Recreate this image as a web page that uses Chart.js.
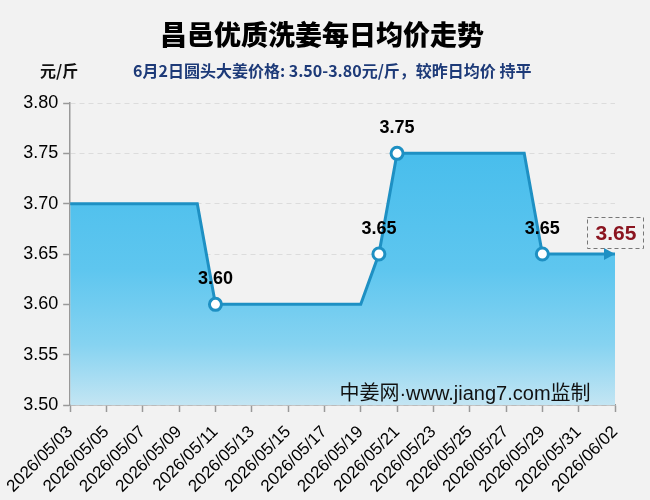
<!DOCTYPE html>
<html><head><meta charset="utf-8">
<script src="https://cdn.jsdelivr.net/npm/chart.js@4"></script>
<style>html,body{margin:0;padding:0;background:#f2f2f2;}#wrap{width:650px;height:500px;}</style>
</head><body><div id="wrap"><canvas id="c" width="650" height="500"></canvas></div>
<script>
const dates = ["2026/05/03","2026/05/04","2026/05/05","2026/05/06","2026/05/07","2026/05/08","2026/05/09","2026/05/10","2026/05/11","2026/05/12","2026/05/13","2026/05/14","2026/05/15","2026/05/16","2026/05/17","2026/05/18","2026/05/19","2026/05/20","2026/05/21","2026/05/22","2026/05/23","2026/05/24","2026/05/25","2026/05/26","2026/05/27","2026/05/28","2026/05/29","2026/05/30","2026/05/31","2026/06/01","2026/06/02"];
const prices = [3.70,3.70,3.70,3.70,3.70,3.70,3.70,3.70,3.60,3.60,3.60,3.60,3.60,3.60,3.60,3.60,3.60,3.65,3.75,3.75,3.75,3.75,3.75,3.75,3.75,3.75,3.65,3.65,3.65,3.65,3.65];
const yTicks = [3.50,3.55,3.60,3.65,3.70,3.75,3.80];
const titleText = "昌邑优质洗姜每日均价走势";
const unitText = "元/斤";
const subText = "6月2日圆头大姜价格: 3.50-3.80元/斤，较昨日均价 持平";
const watermark = "中姜网·www.jiang7.com监制";

const FONT = "'Liberation Sans','Noto Sans CJK SC',sans-serif";
const CJK = "'Noto Sans CJK SC','Liberation Sans',sans-serif";
const LINE = '#1e90c3';
const marked = prices.map((v,i)=> i>0 && v!==prices[i-1]);

const deco = {
  id:'deco',
  beforeDraw(chart){
    const ctx = chart.ctx;
    ctx.save();
    ctx.fillStyle = '#f2f2f2';
    ctx.fillRect(0,0,chart.width,chart.height);
    ctx.fillStyle = '#000';
    ctx.font = "900 27px " + CJK;
    ctx.textAlign='center'; ctx.textBaseline='middle';
    ctx.fillText(titleText, 322, 35);
    ctx.font = "bold 16px " + CJK;
    ctx.textAlign='left';
    ctx.fillStyle='#111';
    ctx.fillText(unitText, 40, 71);
    ctx.fillStyle='#1d3a78';
    ctx.fillText(subText, 133, 71);
    ctx.restore();
  },
  afterDatasetsDraw(chart){
    const ctx = chart.ctx;
    const meta = chart.getDatasetMeta(0);
    ctx.save();
    // watermark
    ctx.fillStyle='#111';
    ctx.font = "20px " + FONT;
    ctx.textAlign='center'; ctx.textBaseline='middle';
    ctx.fillText(watermark, 465, 394);
    // arrow
    const last = meta.data[meta.data.length-1];
    ctx.fillStyle = LINE;
    ctx.beginPath();
    ctx.moveTo(last.x, last.y);
    ctx.lineTo(last.x-11, last.y-6);
    ctx.lineTo(last.x-11, last.y+6);
    ctx.closePath(); ctx.fill();
    // labels
    ctx.font = "bold 18px " + FONT;
    ctx.fillStyle = '#000';
    meta.data.forEach((p,i)=>{
      if(!marked[i]) return;
      ctx.fillText(prices[i].toFixed(2), p.x, p.y-25);
    });
    // last box
    const bx = last.x, by = last.y-21;
    ctx.setLineDash([4,3]);
    ctx.strokeStyle='#777'; ctx.lineWidth=1;
    ctx.strokeRect(bx-27.5, by-15.5, 56, 31);
    ctx.setLineDash([]);
    ctx.fillStyle='#8b1520';
    ctx.font = "bold 21px " + FONT;
    ctx.fillText(prices[prices.length-1].toFixed(2), bx+1, by+1);
    ctx.restore();
  }
};

const ctx = document.getElementById('c').getContext('2d');
new Chart(ctx, {
  type:'line',
  data:{labels:dates, datasets:[{
    data:prices,
    borderColor:LINE, borderWidth:3,
    tension:0,
    fill:'start',
    backgroundColor:(c)=>{
      const ca = c.chart.chartArea;
      if(!ca) return '#5bc6ef';
      const g = c.chart.ctx.createLinearGradient(0,ca.top,0,ca.bottom);
      g.addColorStop(0,'#3fbaeb');
      g.addColorStop(0.55,'#5ec6ef');
      g.addColorStop(0.8,'#86d3f1');
      g.addColorStop(1,'#c3e5f3');
      return g;
    },
    pointRadius:(c)=> marked[c.dataIndex]?6:0,
    pointHoverRadius:(c)=> marked[c.dataIndex]?6:0,
    pointBackgroundColor:'#fff',
    pointBorderColor:LINE,
    pointBorderWidth:3,
    clip:8
  }]},
  options:{
    responsive:false, animation:false,
    layout:{padding:{top:103,left:0,right:35,bottom:0}},
    plugins:{legend:{display:false},tooltip:{enabled:false}},
    scales:{
      x:{
        offset:false,
        afterFit(s){s.height=95;},
        grid:{drawOnChartArea:false,drawTicks:true,tickLength:7,tickColor:'#999',tickWidth:1.5},
        border:{color:'#999',width:1.5},
        ticks:{autoSkip:true,maxTicksLimit:16,maxRotation:45,minRotation:45,color:'#000',font:{family:FONT,size:17},padding:10}
      },
      y:{
        min:3.50,max:3.80,
        afterFit(s){s.width=70;},
        afterBuildTicks(s){s.ticks = yTicks.map(v=>({value:v}));},
        grid:{color:'#dcdcdc',lineWidth:1,tickLength:7,tickColor:'#999',tickWidth:1.5,tickBorderDash:[]},
        border:{color:'#999',width:1.5,dash:[5,4]},
        ticks:{color:'#000',font:{family:FONT,size:18},padding:5,callback:(v)=>Number(v).toFixed(2)}
      }
    }
  },
  plugins:[deco]
});
</script></body></html>
